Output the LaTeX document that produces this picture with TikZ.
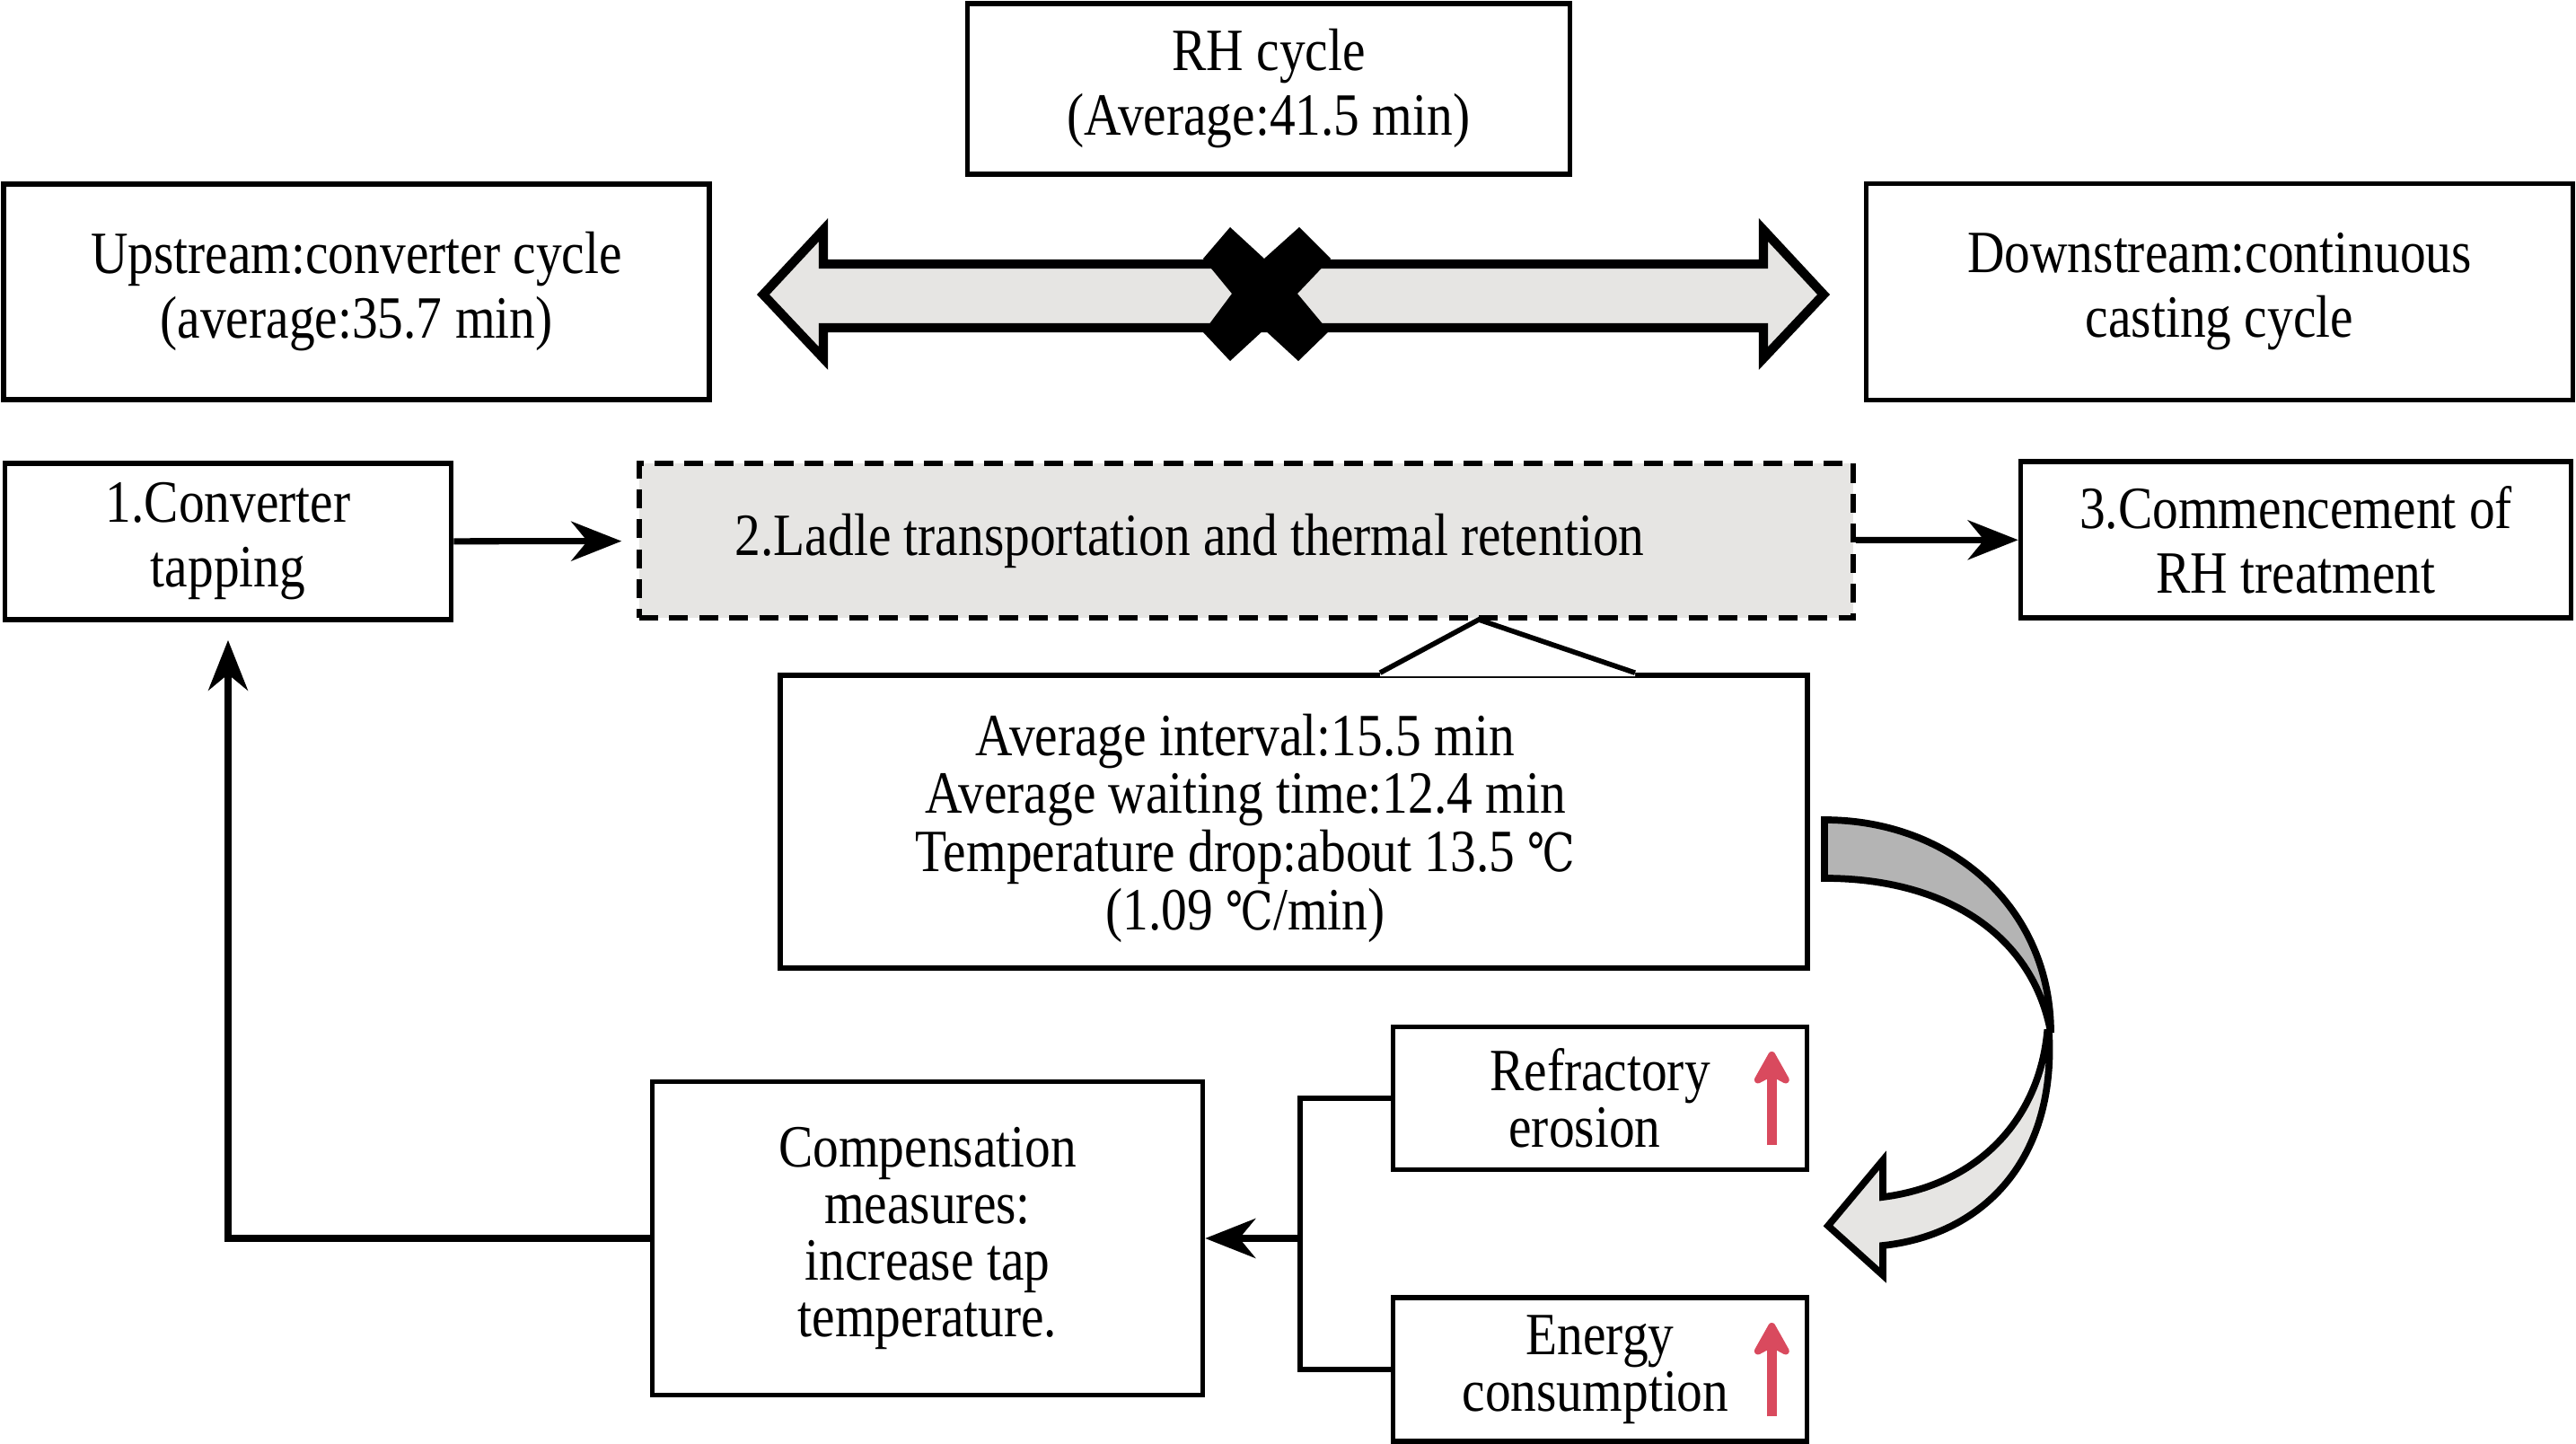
\documentclass[tikz,border=0pt]{standalone}
\usepackage{fontspec}
\setmainfont{Liberation Serif}[FakeStretch=0.86]
\newfontfamily\celsiusfont{DejaVu Serif}[Scale=0.88,FakeStretch=0.8]
\usepackage{tikz}
\usetikzlibrary{arrows.meta,calc}
\definecolor{panelgray}{RGB}{230,229,227}
\definecolor{twistgray}{RGB}{180,180,180}
\definecolor{risered}{RGB}{217,74,94}
\newcommand{\degC}{{\celsiusfont ℃}}

\begin{document}
\begin{tikzpicture}[
  box/.style={draw, line width=1.6pt, align=center, inner sep=0pt, font=\fontsize{19}{20.5}\selectfont},
  tightbox/.style={box, font=\fontsize{19}{17.9}\selectfont},
  flow/.style={line width=2pt, -{Stealth[length=5.6mm,width=4.4mm,inset=1.8mm]}},
  rise/.style={risered, line width=3pt, -{Stealth[length=4.5mm,width=5mm,inset=1.3mm,round]}},
  bigarrow/.style={line width=2.9pt, line join=miter}
]
\useasboundingbox (0,0) rectangle (28.69,-16.08);

\node[box, minimum width=6.71cm, minimum height=1.90cm] (rh) at (14.13,-0.99) {RH cycle\\(Average:41.5 min)};
\node[box, minimum width=7.86cm, minimum height=2.40cm] (up) at (3.97,-3.25) {Upstream:converter cycle\\(average:35.7 min)};
\node[box, minimum width=7.87cm, minimum height=2.41cm] (down) at (24.72,-3.25) {Downstream:continuous\\casting cycle};

\node[box, minimum width=4.97cm, minimum height=1.74cm] (conv) at (2.54,-6.03) {1.Converter\\tapping};
\node[box, dash pattern=on 6pt off 3.5pt, fill=panelgray, minimum width=13.52cm, minimum height=1.72cm] (ladle) at (13.88,-6.02) {2.Ladle transportation and thermal retention\hspace*{1.26cm}};
\node[box, minimum width=6.13cm, minimum height=1.74cm] (rhstart) at (25.57,-6.01) {3.Commencement of\\RH treatment};

\node[tightbox, minimum width=11.44cm, minimum height=3.26cm] (info) at (14.41,-9.15) {\raisebox{-0.1cm}[\height][\depth]{\begin{tabular}{@{}c@{}}Average interval:15.5 min\\Average waiting time:12.4 min\\Temperature drop:about 13.5 \degC\\(1.09 \degC/min)\end{tabular}}\hspace*{1.08cm}};
\node[tightbox, minimum width=6.13cm, minimum height=3.49cm] (comp) at (10.33,-13.79) {Compensation\\measures:\\increase tap\\temperature.};
\node[tightbox, minimum width=4.61cm, minimum height=1.59cm] (refr) at (17.82,-12.23) {Refractory\\erosion\hspace*{0.34cm}};
\node[tightbox, minimum width=4.61cm, minimum height=1.60cm] (energy) at (17.82,-15.25) {Energy\\consumption\hspace*{0.1cm}};

\coordinate (pin) at (16.47,-6.90);
\fill[white] ($(info.north)+(0.96,-0.04)$) -- ($(info.north)+(0.96,0)$) -- (pin) -- ($(info.north)+(3.80,0)$) -- ($(info.north)+(3.80,-0.04)$) -- cycle;
\draw[line width=1.6pt] ($(info.north)+(0.96,0)$) -- (pin) -- ($(info.north)+(3.80,0)$);

\draw[flow, shorten >=0.17cm] (conv) -- (ladle);
\draw[flow] (ladle) -- (rhstart);
\draw[flow, shorten >=0.2cm] (comp.west) -| (conv.south);
\coordinate (jn) at ($(comp.east)+(1.06,0)$);
\draw[line width=1.8pt] (refr.west) -| (jn) |- (energy.west);
\draw[flow] (jn) -- (comp.east);

\draw[rise] ($(refr.east)+(-0.42,-0.52)$) -- ($(refr.east)+(-0.42,0.52)$);
\draw[rise] ($(energy.east)+(-0.42,-0.52)$) -- ($(energy.east)+(-0.42,0.52)$);

\filldraw[bigarrow, fill=panelgray] (8.50,-3.28) -- (9.17,-2.56) -- (9.17,-2.94) -- (19.64,-2.94) -- (19.64,-2.56) -- (20.31,-3.28) -- (19.64,-3.99) -- (19.64,-3.65) -- (9.17,-3.65) -- (9.17,-3.99) -- cycle;
\begin{scope}[shift={(14.08,-3.27)}]
\fill (-0.38,0.74) -- (0,0.39) -- (0.39,0.74) -- (0.74,0.39) -- (0.37,0) -- (0.72,-0.42) -- (0.38,-0.75) -- (0,-0.40) -- (-0.38,-0.75) -- (-0.68,-0.43) -- (-0.36,0) -- (-0.68,0.39) -- cycle;
\end{scope}

\filldraw[bigarrow, line width=2.2pt, fill=panelgray] (22.82,-11.50) .. controls (22.90,-12.90) and (22.10,-13.75) .. (20.97,-13.87) -- (20.97,-14.20) -- (20.36,-13.65) -- (20.97,-12.92) -- (20.97,-13.33) .. controls (22.00,-13.20) and (22.70,-12.50) .. (22.80,-11.50) -- cycle;
\filldraw[bigarrow, line width=2.2pt, fill=twistgray] (20.32,-9.13) .. controls (21.72,-9.13) and (22.84,-10.10) .. (22.84,-11.50) .. controls (22.65,-10.45) and (21.72,-9.78) .. (20.32,-9.78) -- cycle;
\end{tikzpicture}
\end{document}
